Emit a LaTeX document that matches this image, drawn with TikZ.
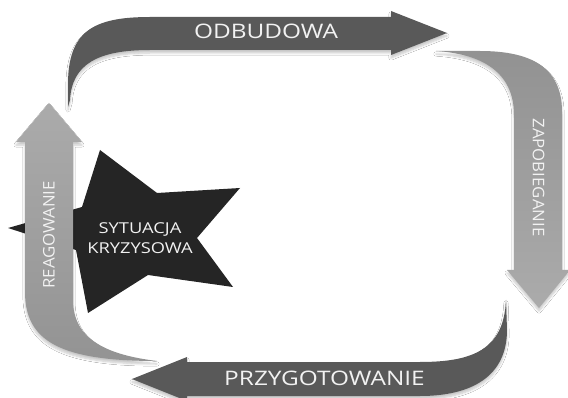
\documentclass[tikz,border=0pt]{standalone}
\usepackage{fontspec}
\setmainfont{Open Sans}[FakeStretch=1.22]
\newfontfamily\vertfont{Open Sans}[FakeStretch=1.05]
\usetikzlibrary{shadows.blur}
\definecolor{darkarrow}{HTML}{595959}
\definecolor{lighttop}{HTML}{929292}
\definecolor{lightbot}{HTML}{ABABAB}
\definecolor{starcol}{HTML}{252525}
\definecolor{labelcol}{HTML}{F2F2F2}
\begin{document}
\begin{tikzpicture}[x=1pt,y=-1pt,
  softshadow/.style={blur shadow={shadow xshift=0pt,shadow yshift=-3pt,shadow blur steps=6,shadow opacity=22}},
  darkband/.style={fill=darkarrow,softshadow},
  lightband/.style={top color=lighttop,bottom color=lightbot,softshadow},
  lightbandup/.style={top color=lightbot,bottom color=lighttop!95!lightbot,softshadow},
  bigtext/.style={text=labelcol,font=\fontsize{20}{24}\selectfont,inner sep=0pt},
  verttext/.style={text=labelcol,font=\vertfont\fontsize{16}{19}\selectfont,inner sep=0pt},
  startext/.style={text=labelcol,font=\fontsize{15}{19.5}\selectfont,align=center,inner sep=0pt}]
\useasboundingbox (0,0) rectangle (568,398);
\fill[white] (0,0) rectangle (568,398);

% crisis star
\fill[starcol] (8,228) -- (82,207) -- (100,150) -- (157,193) -- (240,188)
  -- (197,238) -- (233,287) -- (148,275) -- (88,313) -- (76,250) -- cycle;
\node[startext] (crisis) at (140,238) {SYTUACJA\\KRYZYSOWA};

% ODBUDOWA (top, dark)
\path[darkband] (68,107) -- (68,85) .. controls (68,32) and (92,17) .. (150,17)
  -- (391,17) -- (391,11) -- (447,33) -- (391,55) -- (391,50) -- (150,50)
  .. controls (98,50) and (72,64) .. (70,100) -- cycle;
\node[bigtext] (odbudowa) at (266,31) {ODBUDOWA};

% ZAPOBIEGANIE (right, light)
\path[lightband] (436,51) -- (480,51) .. controls (535,51) and (562,70) .. (562,112)
  -- (562,270) -- (570,270) -- (539,308) -- (507,270) -- (514,270) -- (514,115)
  .. controls (514,72) and (482,54) .. (436,51) -- cycle;
\node[verttext,rotate=-90] (zapobieganie) at (538.5,177.5) {ZAPOBIEGANIE};

% PRZYGOTOWANIE (bottom, dark)
\path[darkband] (506,300) -- (507,330) .. controls (507,376) and (472,396) .. (420,396)
  -- (187,396) -- (187,401) -- (132,379) -- (187,357) -- (187,362) -- (420,362)
  .. controls (472,362) and (504,350) .. (506,300) -- cycle;
\node[bigtext] (przygotowanie) at (324.5,378.5) {PRZYGOTOWANIE};

% REAGOWANIE (left, light)
\path[lightbandup] (157,361) .. controls (62,361) and (25,342) .. (25,292)
  -- (25,142) -- (16,142) -- (49,103) -- (82,142) -- (73,142) -- (73,300)
  .. controls (73,340) and (108,355) .. (157,361) -- cycle;
\node[verttext,rotate=90] (reagowanie) at (49,235) {REAGOWANIE};
\end{tikzpicture}
\end{document}
